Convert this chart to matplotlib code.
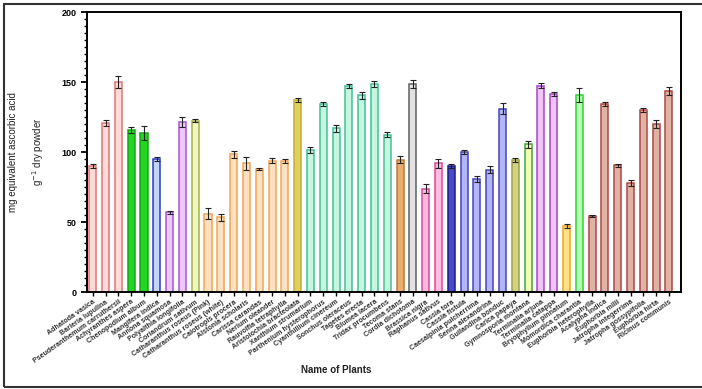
import numpy as np
import matplotlib
matplotlib.use("Agg")
import matplotlib.pyplot as plt
from matplotlib.patches import Rectangle
from matplotlib.ticker import MultipleLocator

plt.rcParams['font.family'] = ['Liberation Sans', 'DejaVu Sans']

# Plantes étudiées (ordre de l'axe x)
plants = [
    "Adhatoda vasica", "Barleria lupulina", "Pseuderanthemum carruthersii",
    "Achyranthes aspera", "Chenopodium album", "Mangifera indica",
    "Annona squamosa", "Polyalthia longifolia", "Coriandrum sativum",
    "Catharanthus roseus (Pink)", "Catharanthus roseus (white)",
    "Calotropis procera", "Alstonia scholaris", "Carissa carandas",
    "Nerium oleander", "Rauvolfia tetraphylla", "Aristolochia bracteolata",
    "Xanthium strumarium", "Parthenium hysterophorus", "Cyanthillium cinereum",
    "Sonchus oleraceus", "Tagetes erecta", "Blumea lacera",
    "Tridax procumbens", "Tecoma stans", "Cordia dichotoma",
    "Brassica nigra", "Raphanus sativus", "Cassia tora", "Cassia fistula",
    "Caesalpinia pulcherrima", "Senna alexandrina", "Guilandina bonduc",
    "Carica papaya", "Gymnosporia montana", "Terminalia arjuna",
    "Terminalia catappa", "Bryophyllum pinnatum", "Momordica charantia",
    "Euphorbia heterophylla", "Acalypha indica", "Euphorbia milii",
    "Jatropha integerrima", "Jatropha gossypifolia", "Euphorbia hirta",
    "Ricinus communis",
]

# Activité antioxydante (mg équivalent acide ascorbique / g)
values = [90, 121, 150, 116, 114, 95, 57, 121.5, 122.5, 56, 53.5,
          98.5, 92, 88, 94, 93.5, 137, 101.5, 134.5, 117, 147, 140.5,
          148.5, 112.5, 94.5, 148.5, 74, 92, 90, 100, 81, 87.5, 131,
          94.5, 105.5, 147.5, 141.5, 47.5, 141, 54.5, 134.5, 90.5, 78,
          130, 120, 143.5]

errors = [1.5, 2, 4, 2, 5, 1.5, 0.8, 3.5, 1, 4, 2.7, 2.5, 4.5, 1, 1.5,
          1.5, 1.5, 2, 1.5, 2.5, 1.5, 2.5, 2, 2, 2.5, 3, 3, 3, 1.5, 1.5,
          2, 2.5, 4, 1.5, 2.5, 2, 1.5, 1.5, 5, 1, 1.5, 1, 2, 1.5, 3, 3]

# couleurs (contour, remplissage) par groupe de familles
groups = [
    (3, "#e07777", "#fcdada"),
    (2, "#12a812", "#22d622"),
    (1, "#2a3cc0", "#c4d2ff"),
    (2, "#a456d0", "#f0c8f8"),
    (1, "#a8b048", "#f0f6c0"),
    (7, "#f0a456", "#fde0c0"),
    (1, "#c4ac30", "#e0d060"),
    (7, "#44c094", "#c4f6e0"),
    (1, "#c07a34", "#e8b070"),
    (1, "#606060", "#e2e2e2"),
    (2, "#e0489a", "#ffbce0"),
    (1, "#1c1c8a", "#4a4ac8"),
    (4, "#4446b4", "#b4b4f8"),
    (1, "#a0a044", "#d2d282"),
    (1, "#44a444", "#f0ffb4"),
    (2, "#a446c4", "#f0c4f8"),
    (1, "#f0a424", "#ffe084"),
    (1, "#34d034", "#b4ffb4"),
    (7, "#b04646", "#e0b2a4"),
]
edge_colors, face_colors = [], []
for n, ec, fc in groups:
    edge_colors += [ec] * n
    face_colors += [fc] * n

fig = plt.figure(figsize=(7.02, 3.89), dpi=100)
ax = fig.add_axes([87 / 702, 1 - 292.3 / 389, 594 / 702, 280.3 / 389])

x = np.arange(len(plants))
ax.bar(x, values, width=0.55, color=face_colors, edgecolor=edge_colors,
       linewidth=1.1, zorder=2)
ax.errorbar(x, values, yerr=errors, fmt='none', ecolor='#222222',
            elinewidth=0.8, capsize=2.5, capthick=0.8, zorder=3)

ax.set_xlim(-0.45, len(plants) - 0.06)
ax.set_ylim(0, 200)
ax.yaxis.set_major_locator(MultipleLocator(50))
ax.yaxis.set_minor_locator(MultipleLocator(5))
ax.set_xticks(x)
ax.set_xticklabels(plants, rotation=35, ha='right', rotation_mode='anchor',
                   fontsize=5.1, fontweight='bold', color='#333333')
for lab in ax.get_yticklabels():
    lab.set_fontweight('bold')
ax.tick_params(axis='y', which='major', labelsize=6.5, length=4, width=1.3)
ax.tick_params(axis='y', which='minor', length=2.5, width=1.0)
ax.tick_params(axis='x', length=3, width=1.0, pad=1.5)

for s in ax.spines.values():
    s.set_linewidth(1.4)

# titre de l'axe y sur deux lignes
fig.text(27 / 702, 1 - 152 / 389,
         "mg equivalent ascorbic acid\ng$^{-1}$ dry powder",
         rotation=90, ha='center', va='center', multialignment='center',
         fontsize=7, linespacing=2.0, color='#222222')
ax.set_xlabel("Name of Plants", fontsize=7, fontweight='bold', color='#222222')
ax.xaxis.set_label_coords(0.42, -0.26)

# cadre autour de la figure
fig.patches.append(Rectangle((4 / 702, 2 / 389), 1.1, 383 / 389,
                             transform=fig.transFigure, fill=False,
                             edgecolor='#333333', linewidth=1.5,
                             clip_on=False))

fig.savefig("out.png", dpi=100)
